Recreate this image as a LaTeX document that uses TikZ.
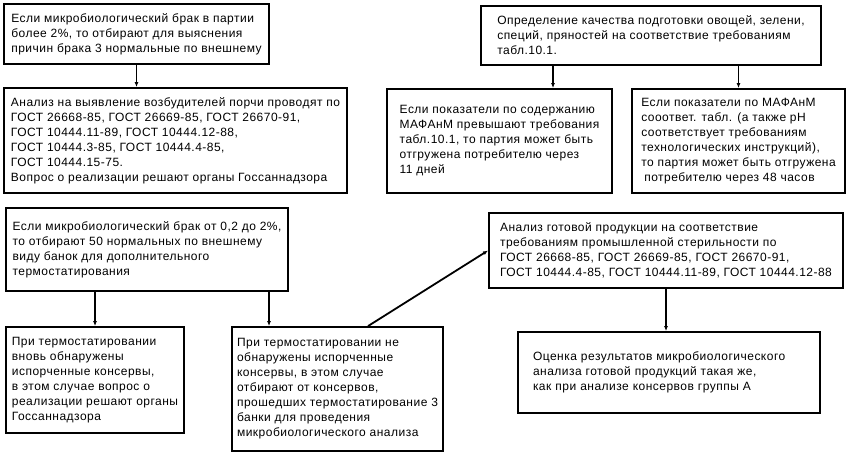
\documentclass[tikz,border=0pt]{standalone}
\usepackage{fontspec}
\setmainfont{Liberation Sans}[LetterSpace=4]
\usetikzlibrary{arrows.meta,calc}
\begin{document}
\begin{tikzpicture}[x=1pt,y=-1pt,
  box/.style={draw, line width=1.8pt, inner sep=0pt, align=left, font=\fontsize{12}{15}\selectfont},
  arr/.style={line width=1.8pt, -{Latex[length=5pt,width=4pt]}}]
\fill[white] (0,0) rectangle (851,455);
\useasboundingbox (0,0) rectangle (851,455);

\node[box, minimum width=265, minimum height=60] (b1) at (136.5,34)
 {Если микробиологический брак в партии\\более 2\%, то отбирают для выяснения\\причин брака 3 нормальные по внешнему};
\node[box, minimum width=343, minimum height=105] (b2) at (175.5,140.5)
 {Анализ на выявление возбудителей порчи проводят по\\ГОСТ 26668-85, ГОСТ 26669-85, ГОСТ 26670-91,\\ГОСТ 10444.11-89, ГОСТ 10444.12-88,\\ГОСТ 10444.3-85, ГОСТ 10444.4-85,\\ГОСТ 10444.15-75.\\Вопрос о реализации решают органы Госсаннадзора};
\node[box, minimum width=340, minimum height=59] (b3) at (651,35.5)
 {Определение качества подготовки овощей, зелени,\\специй, пряностей на соответствие требованиям\\табл.10.1.};
\node[box, minimum width=225, minimum height=104] (b4) at (499.5,141)
 {Если показатели по содержанию\\МАФАнМ превышают требования\\табл.10.1, то партия может быть\\отгружена потребителю через\\11 дней};
\node[box, minimum width=213, minimum height=104] (b5) at (738.5,141)
 {Если показатели по МАФАнМ\\сооответ. табл. (а также рН\\соответствует требованиям\\технологических инструкций),\\то партия может быть отгружена\\\hspace*{3pt}потребителю через 48 часов};
\node[box, minimum width=282, minimum height=83] (b6) at (147,249.5)
 {Если микробиологический брак от 0,2 до 2\%,\\то отбирают 50 нормальных по внешнему\\виду банок для дополнительного\\термостатирования};
\node[box, minimum width=178, minimum height=106] (b7) at (95,380)
 {При термостатировании\\вновь обнаружены\\испорченные консервы,\\в этом случае вопрос о\\реализации решают органы\\Госсаннадзора};
\node[box, minimum width=211, minimum height=124] (b8) at (337.5,389)
 {При термостатировании не\\обнаружены испорченные\\консервы, в этом случае\\отбирают от консервов,\\прошедших термостатирование 3\\банки для проведения\\микробиологического анализа};
\node[box, minimum width=354, minimum height=75] (b9) at (666,250.5)
 {Анализ готовой продукции на соответствие\\требованиям промышленной стерильности по\\ГОСТ 26668-85, ГОСТ 26669-85, ГОСТ 26670-91,\\ГОСТ 10444.4-85, ГОСТ 10444.11-89, ГОСТ 10444.12-88};
\node[box, minimum width=302, minimum height=81, text width=272] (b10) at (669,372.5)
 {Оценка результатов микробиологического\\анализа готовой продукций такая же,\\как при анализе консервов группы А};

\coordinate (t4) at ($(b4.north)+(53.5,0)$);
\coordinate (t8) at ($(b8.north)+(-68.5,0)$);
\coordinate (s8) at ($(b8.north)+(30.5,0)$);

\draw[arr] (b1.south) -- (b1.south |- b2.north);
\draw[arr] (b3.south -| t4) -- (t4);
\draw[arr] (b3.south -| b5.north) -- (b5.north);
\draw[arr] (b6.south -| b7.north) -- (b7.north);
\draw[arr] (b6.south -| t8) -- (t8);
\draw[arr] (s8) -- (b9.west);
\draw[arr] (b9.south) -- (b9.south |- b10.north);
\end{tikzpicture}
\end{document}
